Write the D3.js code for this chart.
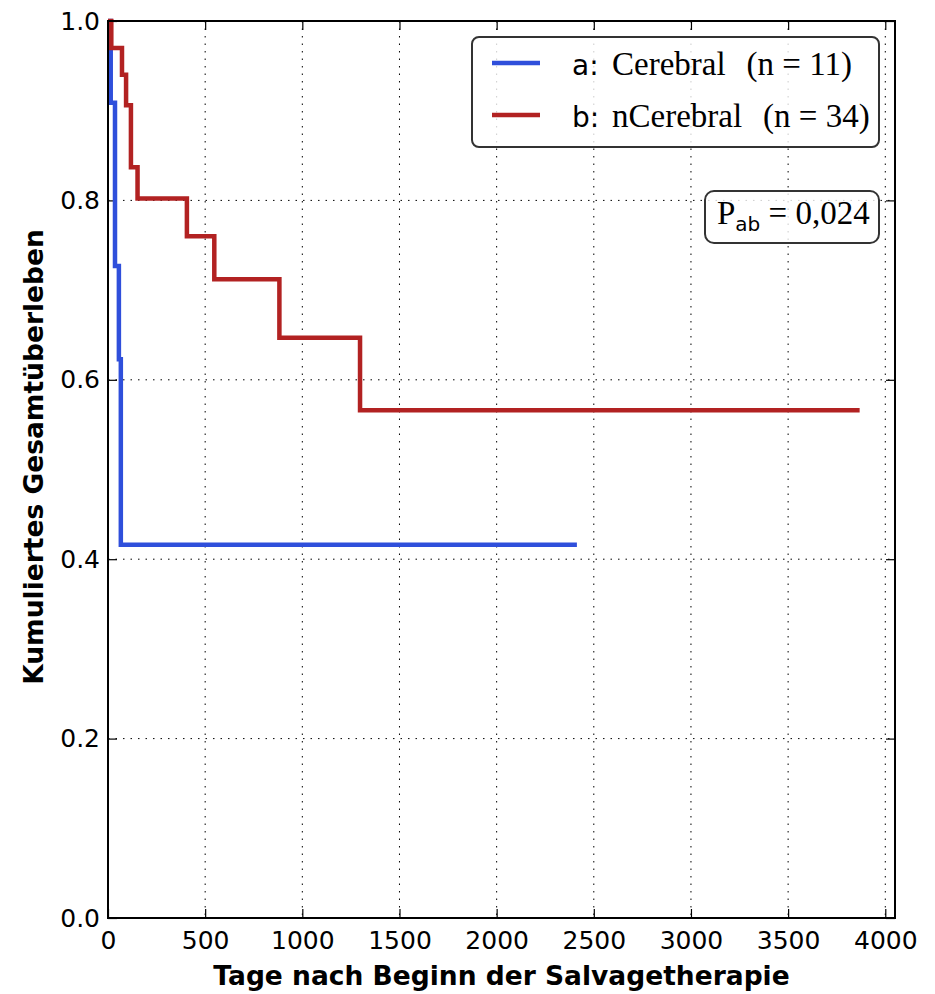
<!DOCTYPE html>
<html>
<head>
<meta charset="utf-8">
<script src="https://cdn.jsdelivr.net/npm/d3@7"></script>
<style>
  html, body { margin: 0; padding: 0; background: #fff; }
  svg { display: block; }
</style>
</head>
<body>
<svg id="chart" width="935" height="994"></svg>
<script>
// Kaplan–Meier survival steps (days after start of salvage therapy, cumulative survival)
const cerebralDays = [0, 14, 36, 56, 66, 2413];
const cerebralSurv = [1.0, 0.909, 0.727, 0.623, 0.416, 0.416];

const nCerebralDays = [0, 17, 72, 93, 118, 152, 406, 547, 882, 1297, 3868];
const nCerebralSurv = [1.0, 0.970, 0.940, 0.906, 0.837, 0.802, 0.760, 0.712, 0.647, 0.566, 0.566];

const seriesLabels = ["a:", "b:"];
const seriesNames = ["Cerebral", "nCerebral"];
const seriesCounts = [11, 34];
const seriesColors = ["#2f4fdb", "#b22222"];

const xTicks = [0, 500, 1000, 1500, 2000, 2500, 3000, 3500, 4000];
const yTicks = [0.0, 0.2, 0.4, 0.6, 0.8, 1.0];
const pValueText = "0,024";

const xTitle = "Tage nach Beginn der Salvagetherapie";
const yTitle = "Kumuliertes Gesamtüberleben";

const svg = d3.select("#chart");
const plotL = 108, plotR = 895, plotT = 21, plotB = 918;

const x = d3.scaleLinear().domain([0, 4050]).range([plotL, plotR]);
const y = d3.scaleLinear().domain([0, 1]).range([plotB, plotT]);

const sans = "'DejaVu Sans', sans-serif";
const serif = "'Liberation Serif', 'DejaVu Serif', serif";

// dotted grid
const grid = svg.append("g");
grid.selectAll("line.gx").data(xTicks.filter(t => t > 0)).join("line")
  .attr("x1", d => x(d)).attr("x2", d => x(d))
  .attr("y1", plotT).attr("y2", plotB)
  .attr("stroke", "#000").attr("stroke-width", 1).attr("stroke-dasharray", "1.5,6");
grid.selectAll("line.gy").data(yTicks.filter(t => t > 0 && t < 1)).join("line")
  .attr("x1", plotL).attr("x2", plotR)
  .attr("y1", d => y(d)).attr("y2", d => y(d))
  .attr("stroke", "#000").attr("stroke-width", 1).attr("stroke-dasharray", "1.5,6");

// axes with inward ticks on all four sides
const tickLen = 9;
const xAxisB = d3.axisBottom(x).tickValues(xTicks).tickFormat(d3.format("d")).tickSizeInner(-tickLen).tickSizeOuter(0).tickPadding(13);
const xAxisT = d3.axisTop(x).tickValues(xTicks).tickFormat("").tickSizeInner(-tickLen).tickSizeOuter(0);
const yAxisL = d3.axisLeft(y).tickValues(yTicks).tickFormat(d3.format(".1f")).tickSizeInner(-tickLen).tickSizeOuter(0).tickPadding(8);
const yAxisR = d3.axisRight(y).tickValues(yTicks).tickFormat("").tickSizeInner(-tickLen).tickSizeOuter(0);

function styleAxis(g) {
  g.select(".domain").remove();
  g.selectAll(".tick line").attr("stroke", "#000").attr("stroke-width", 1.2);
  g.selectAll(".tick text").attr("fill", "#000").style("font-family", sans).style("font-size", "25px");
}
svg.append("g").attr("transform", `translate(0,${plotB})`).call(xAxisB).call(styleAxis);
svg.append("g").attr("transform", `translate(0,${plotT})`).call(xAxisT).call(styleAxis);
svg.append("g").attr("transform", `translate(${plotL},0)`).call(yAxisL).call(styleAxis);
svg.append("g").attr("transform", `translate(${plotR},0)`).call(yAxisR).call(styleAxis);

// survival curves
const stepLine = d3.line().curve(d3.curveStepAfter).x(d => x(d[0])).y(d => y(d[1]));
const curves = [
  d3.zip(cerebralDays, cerebralSurv),
  d3.zip(nCerebralDays, nCerebralSurv)
];
curves.forEach((pts, i) => {
  svg.append("path").datum(pts)
    .attr("d", stepLine)
    .attr("fill", "none")
    .attr("stroke", seriesColors[i])
    .attr("stroke-width", 4.5)
    .attr("stroke-linejoin", "miter");
});

// frame
svg.append("rect").attr("x", plotL).attr("y", plotT)
  .attr("width", plotR - plotL).attr("height", plotB - plotT)
  .attr("fill", "none").attr("stroke", "#000").attr("stroke-width", 2);

// legend
const legend = svg.append("g");
legend.append("rect").attr("x", 472).attr("y", 37).attr("width", 407).attr("height", 110)
  .attr("rx", 7).attr("fill", "#fff").attr("fill-opacity", 0.8)
  .attr("stroke", "#333").attr("stroke-width", 2);
seriesNames.forEach((name, i) => {
  const cy = 63 + i * 52;
  legend.append("line").attr("x1", 492).attr("x2", 540).attr("y1", cy).attr("y2", cy)
    .attr("stroke", seriesColors[i]).attr("stroke-width", 4.5);
  const base = cy + 12;
  legend.append("text").attr("x", 572).attr("y", base)
    .style("font-family", sans).style("font-size", "28px").text(seriesLabels[i]);
  const nm = legend.append("text").attr("x", 612).attr("y", base)
    .style("font-family", serif).style("font-size", "33px").text(name);
  const endX = 612 + nm.node().getComputedTextLength();
  legend.append("text").attr("x", endX + 21).attr("y", base)
    .style("font-family", serif).style("font-size", "33px")
    .text(`(n = ${seriesCounts[i]})`);
});

// p-value box
const pg = svg.append("g");
pg.append("rect").attr("x", 705).attr("y", 191).attr("width", 174).attr("height", 52)
  .attr("rx", 9).attr("fill", "#fff").attr("fill-opacity", 0.8)
  .attr("stroke", "#333").attr("stroke-width", 2);
const pt = pg.append("text").attr("x", 717).attr("y", 224)
  .style("font-family", serif).style("font-size", "33px");
pt.append("tspan").text("P");
pt.append("tspan").attr("dy", 7).style("font-family", sans).style("font-size", "20px").text("ab");
pt.append("tspan").attr("dy", -7).text(" = " + pValueText);

// axis titles
svg.append("text").attr("x", (plotL + plotR) / 2).attr("y", 985)
  .attr("text-anchor", "middle")
  .style("font-family", sans).style("font-weight", "bold").style("font-size", "26.5px")
  .text(xTitle);
svg.append("text").attr("transform", `translate(43,457) rotate(-90)`)
  .attr("text-anchor", "middle")
  .style("font-family", sans).style("font-weight", "bold").style("font-size", "26.5px")
  .text(yTitle);
</script>
</body>
</html>
